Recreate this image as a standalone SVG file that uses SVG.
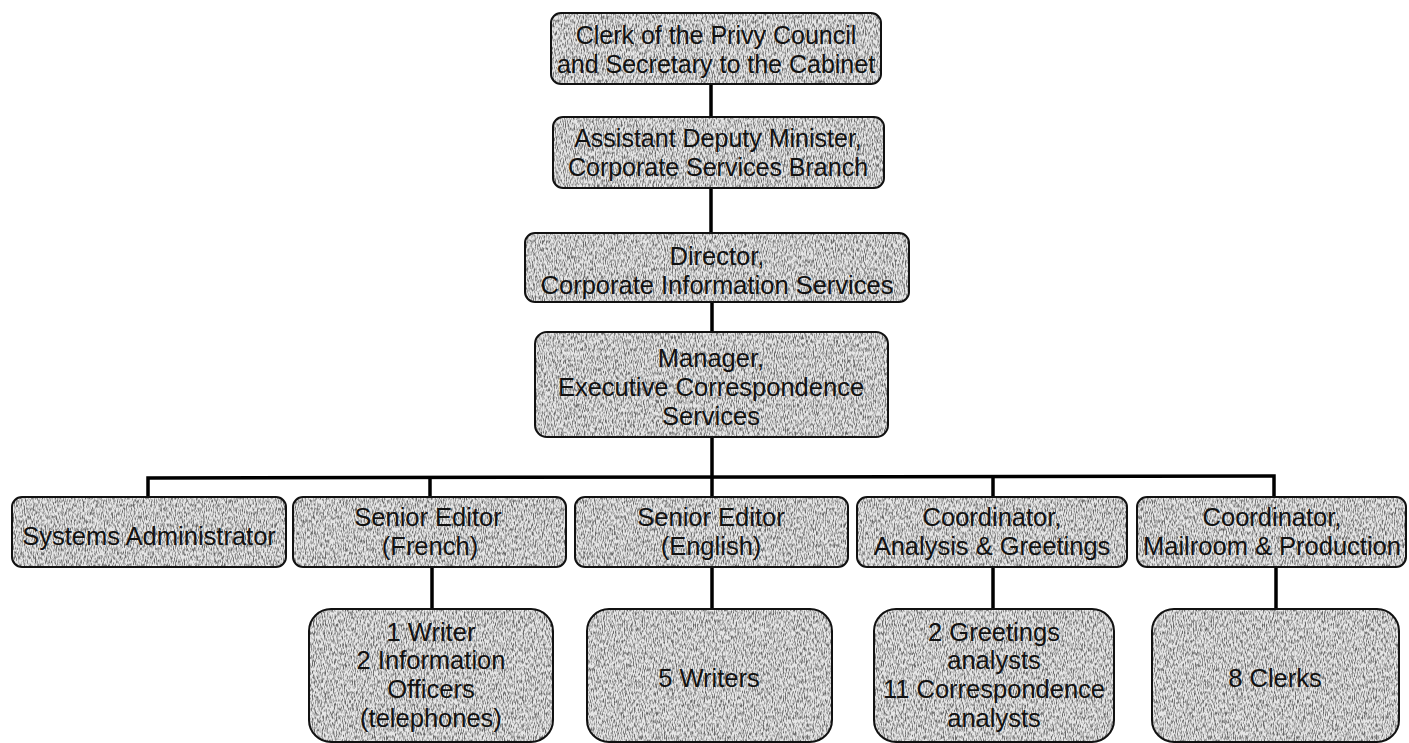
<svg xmlns="http://www.w3.org/2000/svg" width="1409" height="743" viewBox="0 0 1409 743">
<defs>
<filter id="grain" x="0" y="0" width="100%" height="100%" color-interpolation-filters="sRGB">
<feTurbulence type="fractalNoise" baseFrequency="0.9 0.25" numOctaves="2" seed="7" result="n"/>
<feColorMatrix in="n" type="matrix" values="0 0 0 0 0.4  0 0 0 0 0.4  0 0 0 0 0.4  3 0 0 0 -1.25" result="dots"/>
<feComposite in="dots" in2="SourceGraphic" operator="in" result="d2"/>
<feMerge><feMergeNode in="SourceGraphic"/><feMergeNode in="d2"/></feMerge>
</filter>
<style>
.f{fill:#e6e6e6;stroke:none;filter:url(#grain)}
.o{fill:none;stroke:#111;stroke-width:2}
.t{font-family:"Liberation Sans",Arial,sans-serif;font-size:25px;fill:#111;text-anchor:middle}
.r{font-size:25.5px}
.c{fill:none;stroke:#000;stroke-width:3.5}
</style>
</defs>
<rect width="1409" height="743" fill="#fff"/>
<g id="connectors">
<line class="c" x1="711" y1="83" x2="711" y2="118"/>
<line class="c" x1="711" y1="187" x2="711" y2="234"/>
<line class="c" x1="712" y1="301" x2="712" y2="333"/>
<line class="c" x1="712" y1="436" x2="712" y2="498"/>
<polyline class="c" points="148,498 148,478 1274,476 1274,498"/>
<line class="c" x1="430" y1="477" x2="430" y2="498"/>
<line class="c" x1="993" y1="476" x2="993" y2="498"/>
<line class="c" x1="432" y1="567" x2="432" y2="610"/>
<line class="c" x1="712" y1="567" x2="712" y2="610"/>
<line class="c" x1="993" y1="567" x2="993" y2="610"/>
<line class="c" x1="1276" y1="567" x2="1276" y2="610"/>
</g>
<g id="clerk">
<rect class="f" x="551" y="13" width="330" height="71" rx="10"/>
<rect class="o" x="551" y="13" width="330" height="71" rx="10"/>
<text class="t" x="716" y="44">Clerk of the Privy Council</text>
<text class="t" x="716" y="73">and Secretary to the Cabinet</text>
</g>
<g id="adm">
<rect class="f" x="553" y="117" width="331" height="71" rx="10"/>
<rect class="o" x="553" y="117" width="331" height="71" rx="10"/>
<text class="t" x="718" y="147">Assistant Deputy Minister,</text>
<text class="t" x="718" y="176">Corporate Services Branch</text>
</g>
<g id="director">
<rect class="f" x="525" y="233" width="384" height="69" rx="10"/>
<rect class="o" x="525" y="233" width="384" height="69" rx="10"/>
<text class="t r" x="717" y="265">Director,</text>
<text class="t r" x="717" y="294">Corporate Information Services</text>
</g>
<g id="manager">
<rect class="f" x="535" y="332" width="353" height="105" rx="12"/>
<rect class="o" x="535" y="332" width="353" height="105" rx="12"/>
<text class="t r" x="711" y="367">Manager,</text>
<text class="t r" x="711" y="396">Executive Correspondence</text>
<text class="t r" x="711" y="425">Services</text>
</g>
<g id="sysadmin">
<rect class="f" x="12" y="497" width="274" height="70" rx="10"/>
<rect class="o" x="12" y="497" width="274" height="70" rx="10"/>
<text class="t r" x="149" y="545">Systems Administrator</text>
</g>
<g id="editor-fr">
<rect class="f" x="293" y="497" width="273" height="70" rx="10"/>
<rect class="o" x="293" y="497" width="273" height="70" rx="10"/>
<text class="t r" x="428" y="526">Senior Editor</text>
<text class="t r" x="430" y="555">(French)</text>
</g>
<g id="editor-en">
<rect class="f" x="575" y="497" width="273" height="70" rx="10"/>
<rect class="o" x="575" y="497" width="273" height="70" rx="10"/>
<text class="t r" x="711" y="526">Senior Editor</text>
<text class="t r" x="711" y="555">(English)</text>
</g>
<g id="coord-ag">
<rect class="f" x="857" y="497" width="270" height="70" rx="10"/>
<rect class="o" x="857" y="497" width="270" height="70" rx="10"/>
<text class="t r" x="992" y="526">Coordinator,</text>
<text class="t r" x="992" y="555">Analysis &amp; Greetings</text>
</g>
<g id="coord-mp">
<rect class="f" x="1137" y="497" width="269" height="70" rx="10"/>
<rect class="o" x="1137" y="497" width="269" height="70" rx="10"/>
<text class="t r" x="1272" y="526">Coordinator,</text>
<text class="t r" x="1272" y="555">Mailroom &amp; Production</text>
</g>
<g id="team-fr">
<rect class="f" x="309" y="609" width="244" height="133" rx="22"/>
<rect class="o" x="309" y="609" width="244" height="133" rx="22"/>
<text class="t r" x="431" y="641">1 Writer</text>
<text class="t r" x="431" y="669">2 Information</text>
<text class="t r" x="431" y="698">Officers</text>
<text class="t r" x="431" y="727">(telephones)</text>
</g>
<g id="team-en">
<rect class="f" x="587" y="609" width="245" height="133" rx="22"/>
<rect class="o" x="587" y="609" width="245" height="133" rx="22"/>
<text class="t r" x="709" y="687">5 Writers</text>
</g>
<g id="team-ag">
<rect class="f" x="874" y="609" width="240" height="133" rx="22"/>
<rect class="o" x="874" y="609" width="240" height="133" rx="22"/>
<text class="t r" x="994" y="641">2 Greetings</text>
<text class="t r" x="994" y="669">analysts</text>
<text class="t r" x="994" y="698">11 Correspondence</text>
<text class="t r" x="994" y="727">analysts</text>
</g>
<g id="team-mp">
<rect class="f" x="1152" y="609" width="247" height="133" rx="22"/>
<rect class="o" x="1152" y="609" width="247" height="133" rx="22"/>
<text class="t r" x="1275" y="687">8 Clerks</text>
</g>
</svg>
